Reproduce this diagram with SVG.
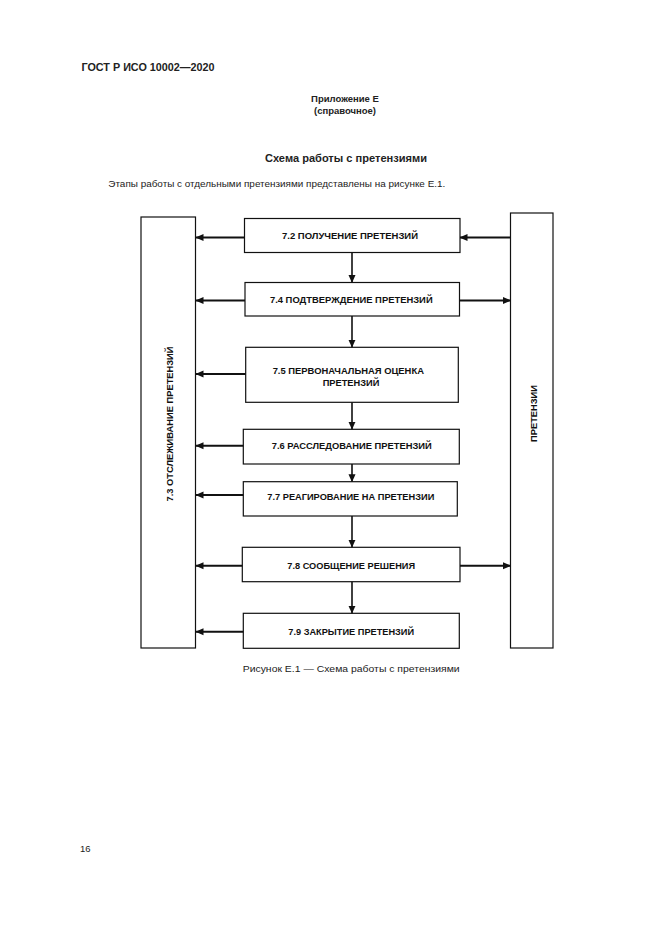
<svg xmlns="http://www.w3.org/2000/svg" width="661" height="935" viewBox="0 0 661 935">
<style>
.bg{fill:#ffffff}
.box{fill:#ffffff;stroke:#111;stroke-width:1.2}
.lbl{font-family:"Liberation Sans",Arial,sans-serif;font-weight:bold;font-size:8.5px;fill:#111;text-anchor:middle}
.hd{font-family:"Liberation Sans",Arial,sans-serif;fill:#222}
.b{font-weight:bold}
.h{stroke:#111;stroke-width:2;fill:none}
.v{stroke:#111;stroke-width:1.6;fill:none}
</style>
<defs>
<marker id="ah" markerUnits="userSpaceOnUse" markerWidth="8" markerHeight="8" viewBox="0 0 8 8" refX="7.5" refY="4" orient="auto">
<path d="M0,0.5 L8,4 L0,7.5 z" fill="#111"/>
</marker>
</defs>
<rect class="bg" x="0" y="0" width="661" height="935"/>
<g id="header">
<text class="hd b" x="81.5" y="70.5" font-size="10.2" textLength="133" lengthAdjust="spacingAndGlyphs">ГОСТ Р ИСО 10002—2020</text>
<text class="hd b" x="345" y="102" font-size="9.5" text-anchor="middle">Приложение Е</text>
<text class="hd b" x="345" y="113.5" font-size="9.5" text-anchor="middle">(справочное)</text>
<text class="hd b" x="346" y="162" font-size="10.5" text-anchor="middle" textLength="162" lengthAdjust="spacingAndGlyphs">Схема работы с претензиями</text>
<text class="hd" x="108.3" y="187" font-size="9.5" textLength="337" lengthAdjust="spacingAndGlyphs">Этапы работы с отдельными претензиями представлены на рисунке Е.1.</text>
</g>
<g id="n73">
<rect class="box" x="141" y="217" width="54.5" height="431"/>
<text class="lbl" transform="translate(173,424) rotate(-90)" x="0" y="0" textLength="155" lengthAdjust="spacingAndGlyphs">7.3 ОТСЛЕЖИВАНИЕ ПРЕТЕНЗИЙ</text>
</g>
<g id="nclaims">
<rect class="box" x="510.5" y="213" width="42.5" height="435"/>
<text class="lbl" transform="translate(536.5,413.5) rotate(-90)" x="0" y="0" textLength="57" lengthAdjust="spacingAndGlyphs">ПРЕТЕНЗИИ</text>
</g>
<g id="n72">
<rect class="box" x="244.5" y="218.5" width="215.5" height="34"/>
<text class="lbl" x="350" y="238.5" textLength="136" lengthAdjust="spacingAndGlyphs">7.2 ПОЛУЧЕНИЕ ПРЕТЕНЗИЙ</text>
</g>
<g id="n74">
<rect class="box" x="245" y="282.5" width="214.5" height="33.5"/>
<text class="lbl" x="351.3" y="302.5" textLength="162.7" lengthAdjust="spacingAndGlyphs">7.4 ПОДТВЕРЖДЕНИЕ ПРЕТЕНЗИЙ</text>
</g>
<g id="n75">
<rect class="box" x="245.7" y="347.3" width="212.6" height="55"/>
<text class="lbl" x="348.3" y="373.8" textLength="151.3" lengthAdjust="spacingAndGlyphs">7.5 ПЕРВОНАЧАЛЬНАЯ ОЦЕНКА</text>
<text class="lbl" x="351" y="385.5" textLength="56.7" lengthAdjust="spacingAndGlyphs">ПРЕТЕНЗИЙ</text>
</g>
<g id="n76">
<rect class="box" x="243.3" y="429.3" width="216" height="34.7"/>
<text class="lbl" x="351.7" y="449" textLength="160" lengthAdjust="spacingAndGlyphs">7.6 РАССЛЕДОВАНИЕ ПРЕТЕНЗИЙ</text>
</g>
<g id="n77">
<rect class="box" x="243.3" y="481.7" width="214" height="34.3"/>
<text class="lbl" x="350.8" y="499.8" textLength="167" lengthAdjust="spacingAndGlyphs">7.7 РЕАГИРОВАНИЕ НА ПРЕТЕНЗИИ</text>
</g>
<g id="n78">
<rect class="box" x="242.3" y="547.3" width="217.7" height="34.4"/>
<text class="lbl" x="351.2" y="568.5" textLength="127.7" lengthAdjust="spacingAndGlyphs">7.8 СООБЩЕНИЕ РЕШЕНИЯ</text>
</g>
<g id="n79">
<rect class="box" x="243.3" y="613.3" width="216" height="35"/>
<text class="lbl" x="351.2" y="634.5" textLength="125.7" lengthAdjust="spacingAndGlyphs">7.9 ЗАКРЫТИЕ ПРЕТЕНЗИЙ</text>
</g>
<g id="connectors">
<line class="h" x1="244.5" y1="237.5" x2="196" y2="237.5" marker-end="url(#ah)"/>
<line class="h" x1="510.5" y1="237.5" x2="460" y2="237.5" marker-end="url(#ah)"/>
<line class="h" x1="245" y1="300.5" x2="196" y2="300.5" marker-end="url(#ah)"/>
<line class="h" x1="459.5" y1="300.5" x2="510.5" y2="300.5" marker-end="url(#ah)"/>
<line class="h" x1="245.7" y1="374" x2="196" y2="374" marker-end="url(#ah)"/>
<line class="h" x1="243.3" y1="445.7" x2="196" y2="445.7" marker-end="url(#ah)"/>
<line class="h" x1="243.3" y1="495" x2="196" y2="495" marker-end="url(#ah)"/>
<line class="h" x1="242.3" y1="565.7" x2="196" y2="565.7" marker-end="url(#ah)"/>
<line class="h" x1="460" y1="565.7" x2="510.5" y2="565.7" marker-end="url(#ah)"/>
<line class="h" x1="243.3" y1="631.7" x2="196" y2="631.7" marker-end="url(#ah)"/>
<line class="v" x1="352" y1="252.5" x2="352" y2="282.5" marker-end="url(#ah)"/>
<line class="v" x1="352" y1="316" x2="352" y2="347.3" marker-end="url(#ah)"/>
<line class="v" x1="352" y1="402.3" x2="352" y2="429.3" marker-end="url(#ah)"/>
<line class="v" x1="352" y1="464" x2="352" y2="481.7" marker-end="url(#ah)"/>
<line class="v" x1="352" y1="516" x2="352" y2="547.3" marker-end="url(#ah)"/>
<line class="v" x1="352" y1="581.7" x2="352" y2="613.3" marker-end="url(#ah)"/>
</g>
<g id="caption">
<text class="hd" x="242.7" y="672" font-size="9" textLength="217" lengthAdjust="spacingAndGlyphs">Рисунок Е.1 — Схема работы с претензиями</text>
<text class="hd" x="80" y="852" font-size="9.5">16</text>
</g>
</svg>
